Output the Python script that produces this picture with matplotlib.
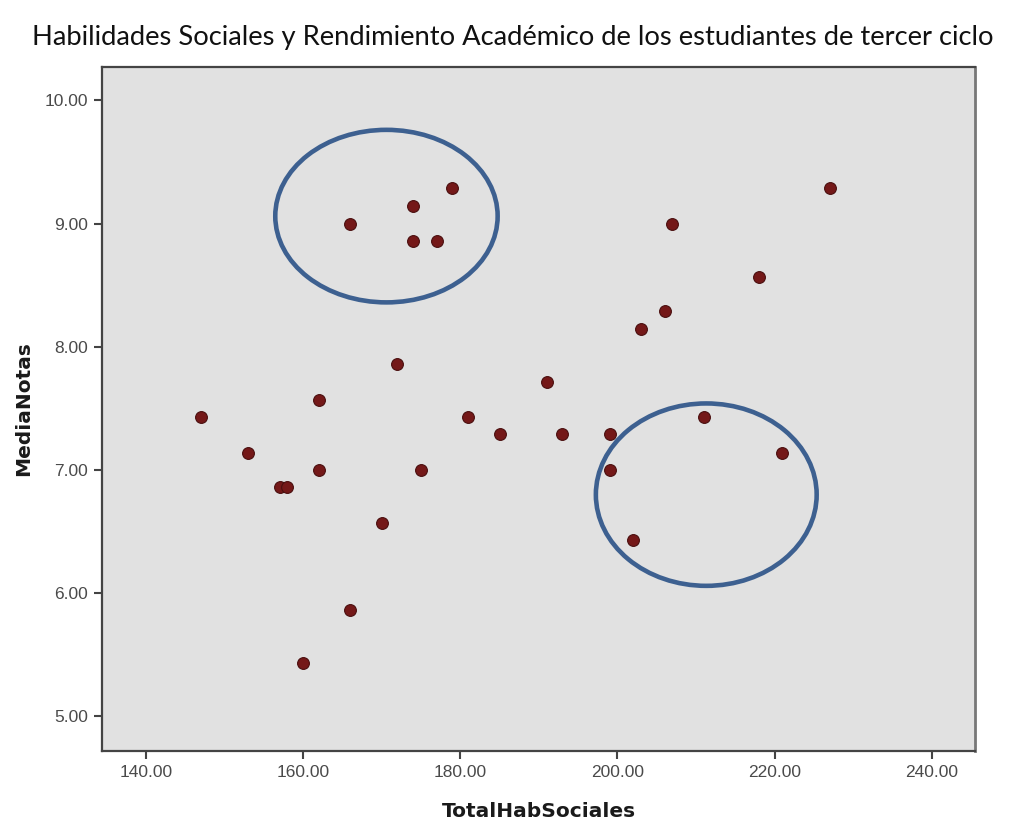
import matplotlib.pyplot as plt
from matplotlib.patches import Ellipse

# TotalHabSociales / MediaNotas values
hab_sociales = [147, 153, 157, 158, 160, 162, 162, 166, 166, 170,
                172, 174, 174, 175, 177, 179, 181, 185, 191, 193,
                199, 199, 202, 203, 206, 207, 211, 218, 221, 227]
media_notas = [7.43, 7.14, 6.86, 6.86, 5.43, 7.57, 7.00, 9.00, 5.86, 6.57,
               7.86, 9.14, 8.86, 7.00, 8.86, 9.29, 7.43, 7.29, 7.71, 7.29,
               7.29, 7.00, 6.43, 8.14, 8.29, 9.00, 7.43, 8.57, 7.14, 9.29]

# hand-drawn circles marking the two groups (center x, center y, width, height)
circle_x = [170.6, 211.3]
circle_y = [9.06, 6.80]
circle_w = [28.3, 28.1]
circle_h = [1.40, 1.48]

x_ticks = [140, 160, 180, 200, 220, 240]
y_ticks = [5, 6, 7, 8, 9, 10]

fig = plt.figure(figsize=(10.17, 8.23), dpi=100)
ax = fig.add_axes([0.1003, 0.0875, 0.8584, 0.8311])
ax.set_facecolor('#e1e1e1')

ax.scatter(hab_sociales, media_notas, s=72, color='#741818',
           edgecolors='#4a0f0f', linewidths=0.8, zorder=3)

for cx, cy, w, h in zip(circle_x, circle_y, circle_w, circle_h):
    ax.add_patch(Ellipse((cx, cy), w, h, fill=False, edgecolor='#3d6090',
                         linewidth=3.3, zorder=4))

ax.set_xlim(134.4, 245.5)
ax.set_ylim(4.72, 10.27)
ax.set_xticks(x_ticks)
ax.set_yticks(y_ticks)
ax.set_xticklabels([f'{v:.2f}' for v in x_ticks])
ax.set_yticklabels([f'{v:.2f}' for v in y_ticks])
ax.tick_params(direction='out', length=6, width=1.5, color='#444444',
               labelsize=12.5, labelcolor='#4a4a4a', pad=4)
for lab in ax.get_xticklabels() + ax.get_yticklabels():
    lab.set_family('Liberation Sans')

for side in ['left', 'bottom', 'top']:
    ax.spines[side].set_color('#444444')
    ax.spines[side].set_linewidth(1.6)
ax.spines['right'].set_color('#777777')
ax.spines['right'].set_linewidth(2)

ax.set_xlabel('TotalHabSociales', fontsize=14.5, fontweight='bold',
              family='DejaVu Sans', color='#1a1a1a', labelpad=16)
ax.set_ylabel('MediaNotas', fontsize=14.5, fontweight='bold',
              family='DejaVu Sans', color='#1a1a1a', labelpad=8)

fig.text(0.5045, 0.955, 'Habilidades Sociales y Rendimiento Académico de los estudiantes de tercer ciclo',
         ha='center', va='center', fontsize=19.7, family='Lato', color='#111111')

fig.savefig('out.png', dpi=100)
